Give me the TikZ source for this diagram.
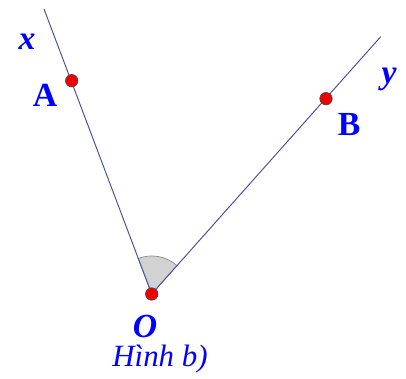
\documentclass[tikz,border=0pt]{standalone}
\usepackage{fontspec}
\setmainfont{Liberation Serif}
\usepackage{xcolor}
\definecolor{ptblue}{RGB}{0,0,255}
\definecolor{raycol}{RGB}{80,80,160}
\definecolor{dotred}{RGB}{240,0,0}
\definecolor{arcgray}{RGB}{210,210,210}
\usetikzlibrary{calc}

\tikzset{
  pt/.style={circle, fill=dotred, draw=black!70, line width=0.5pt, inner sep=0pt, minimum size=0.31cm},
  lbl/.style={font=\fontsize{24}{28}\selectfont\bfseries, text=ptblue, inner sep=0pt},
  ilbl/.style={lbl, font=\fontsize{24}{28}\selectfont\bfseries\itshape},
  ray/.style={raycol, line width=0.7pt}
}

\begin{document}
\begin{tikzpicture}[x=0.025cm, y=0.025cm]
  \useasboundingbox (0,0) rectangle (406,379);

  % points on the rays
  \coordinate (xe) at (44,370);
  \coordinate (ye) at (380.7,342.3);
  \coordinate (Oc) at (151.7,85);

  % angle mark at O
  \filldraw[fill=arcgray, draw=black!45, line width=0.5pt]
    (Oc) -- ($(Oc)!0.95cm!(ye)$) arc[start angle=48.3, end angle=110.7, radius=0.95cm] -- cycle;

  % the two rays
  \draw[ray] (Oc) -- (xe);
  \draw[ray] (Oc) -- (ye);

  \node[pt] (A) at (71.7,298.3) {};
  \node[pt] (B) at (326,280.3) {};
  \node[pt] (O) at (Oc) {};

  % labels
  \node[ilbl] (lx) at (27,337) {x};
  \node[lbl] (lA) at (45,284) {A};
  \node[ilbl] (ly) at (389,300) {y};
  \node[lbl] (lB) at (349,254) {B};
  \node[ilbl] (lO) at (145,53) {O};
  \node[font=\fontsize{22}{26}\selectfont\itshape, text=ptblue, inner sep=0pt] (cap) at (160,20) {Hình b)};
\end{tikzpicture}
\end{document}
